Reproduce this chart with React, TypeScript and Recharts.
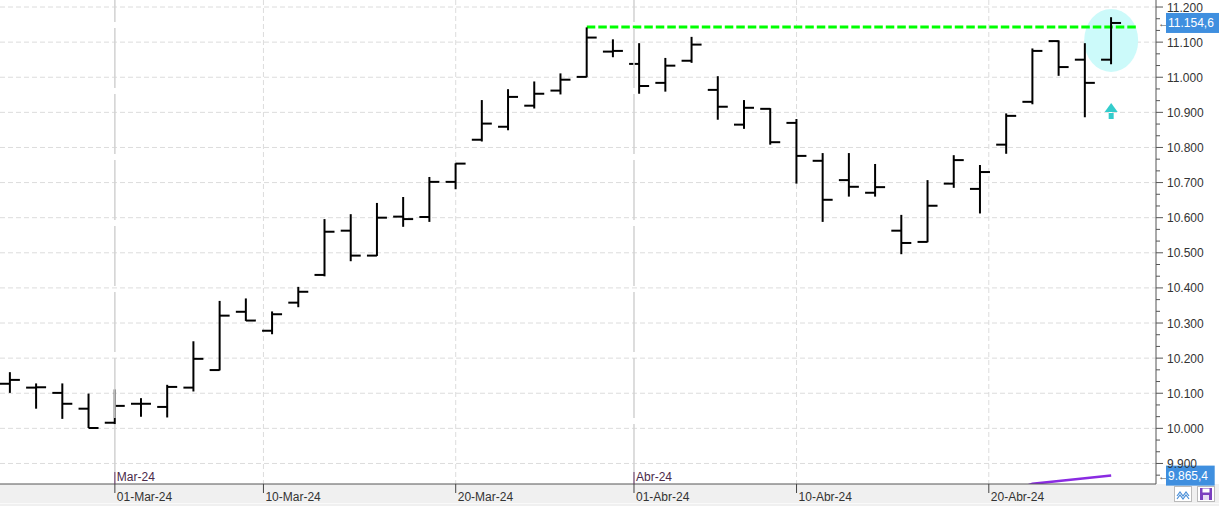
import React from 'react';
import { ComposedChart, Bar, Line, XAxis, YAxis, CartesianGrid, ReferenceLine, ReferenceDot } from 'recharts';

// IBEX 35 daily bars, 26-Feb-24 .. 26-Abr-24 (trading days only)
const opens = [10127, 10116, 10101, 10056, 10016, 10070, 10061, 10116, 10166, 10332, 10278, 10358, 10437, 10563, 10492, 10603, 10602, 10702, 10822, 10859, 10919, 10962, 11001, 11073, 11038, 10984, 11047, 10964, 10865, 10910, 10870, 10762, 10707, 10671, 10563, 10531, 10697, 10682, 10808, 10930, 11103, 11050, 11050];
const highs = [10160, 10128, 10128, 10099, 10111, 10086, 10124, 10248, 10363, 10370, 10333, 10403, 10596, 10610, 10642, 10659, 10716, 10755, 10935, 10966, 10988, 11011, 11142, 11108, 11097, 11055, 11115, 11003, 10935, 10912, 10881, 10784, 10784, 10753, 10608, 10707, 10778, 10750, 10897, 11082, 11105, 11097, 11171];
const lows = [10101, 10056, 10027, 10001, 10012, 10033, 10031, 10105, 10165, 10306, 10268, 10345, 10433, 10476, 10491, 10574, 10588, 10681, 10817, 10849, 10911, 10951, 11000, 11057, 10953, 10959, 11041, 10879, 10853, 10808, 10697, 10588, 10660, 10660, 10496, 10530, 10685, 10612, 10782, 10923, 11004, 10886, 11037];
const closes = [10138, 10117, 10070, 10001, 10064, 10070, 10118, 10198, 10321, 10307, 10325, 10389, 10560, 10492, 10600, 10596, 10702, 10754, 10868, 10944, 10953, 10993, 11113, 11075, 10975, 11033, 11093, 10916, 10913, 10815, 10776, 10651, 10688, 10687, 10528, 10634, 10764, 10730, 10890, 11075, 11029, 10984, 11154.6];

// long moving average, only its tail reaches the visible range
const maStart = 38;
const maValues = [9818, 9842, 9850, 9858, 9865.4];

const dateTicks = [4, 9.667, 17, 23.8, 30, 37.333];
const dateLabels = ['01-Mar-24', '10-Mar-24', '20-Mar-24', '01-Abr-24', '10-Abr-24', '20-Abr-24'];
const monthTicks = [4, 23.8];
const monthLabels = ['Mar-24', 'Abr-24'];
const priceTicks = [9900, 10000, 10100, 10200, 10300, 10400, 10500, 10600, 10700, 10800, 10900, 11000, 11100, 11200];

const resistance = 11143;
const resistanceFrom = 22;
const resistanceTo = 43;
const lastPrice = 11154.6;
const maLast = 9865.4;
const highlightIdx = 42;
const highlightPrice = 11105;
const arrowPrice = 10901;

const chartData = opens.map((o, i) => ({
  idx: i,
  open: o,
  high: highs[i],
  low: lows[i],
  close: closes[i],
  range: [lows[i], highs[i]],
  ma: i >= maStart ? maValues[i - maStart] : null,
}));

// minor ticks every third of 100 on the price scale
const yTicks: number[] = [];
for (let k = 0; k <= 40; k++) yTicks.push(Math.round((9866.667 + k * 33.3333) * 1000) / 1000);

const fmt = (v: number, dec = 0) => {
  const s = v.toFixed(dec);
  const [ip, dp] = s.split('.');
  const grouped = ip.replace(/\B(?=(\d{3})+(?!\d))/g, '.');
  return dp ? grouped + ',' + dp : grouped;
};

const FONT = '"Liberation Sans", Arial, sans-serif';

const OhlcShape = (props: any) => {
  const { x, y, width, height, payload } = props;
  const top = Math.min(y, y + height);
  const h = Math.abs(height);
  const cx = x + width / 2;
  const span = payload.high - payload.low || 1;
  const yOpen = top + ((payload.high - payload.open) / span) * h;
  const yClose = top + ((payload.high - payload.close) / span) * h;
  return (
    <g stroke="#000" strokeWidth={2}>
      <line x1={cx} y1={top} x2={cx} y2={top + h} />
      <line x1={cx - width / 2} y1={yOpen} x2={cx} y2={yOpen} />
      <line x1={cx} y1={yClose} x2={cx + width / 2} y2={yClose} />
    </g>
  );
};

const XTick = (props: any) => {
  const { x, y, payload } = props;
  const i = dateTicks.indexOf(payload.value);
  const m = monthTicks.indexOf(payload.value);
  return (
    <g>
      <line x1={x} y1={y} x2={x} y2={y + 9} stroke="#444" />
      <text x={x + 2} y={y + 17} fontSize={12} fill="#333" fontFamily={FONT}>{dateLabels[i]}</text>
      {m >= 0 && (
        <g>
          <line x1={x} y1={y - 12} x2={x} y2={y} stroke="#6a3a6a" />
          <text x={x + 2} y={y - 3} fontSize={12} fill="#4a2a4a" fontFamily={FONT}>{monthLabels[m]}</text>
        </g>
      )}
    </g>
  );
};

const YTick = (props: any) => {
  const { x, y, payload } = props;
  const v = payload.value;
  const major = Math.abs(v / 100 - Math.round(v / 100)) < 0.001;
  return (
    <g>
      <line x1={x} y1={y} x2={x + (major ? 7 : 4)} y2={y} stroke="#555" />
      {major && (
        <text x={x + 11} y={y + 4.5} fontSize={12} fill="#333" fontFamily={FONT}>{fmt(Math.round(v))}</text>
      )}
    </g>
  );
};

const priceTag = (text: string) => (props: any) => {
  const vb = props.viewBox || {};
  const x = vb.x + vb.width;
  const y = vb.y;
  const w = text.length * 6.1 + 6;
  return (
    <g>
      <text x={x + 2} y={y + 4} fontSize={11} fill="#555" fontFamily={FONT}>←</text>
      <rect x={x + 10} y={y - 10} width={w} height={20} fill="#3f8fdf" />
      <text x={x + 12} y={y + 4.5} fontSize={12} fill="#fff" fontFamily={FONT}>{text}</text>
    </g>
  );
};

const Highlight = (p: any) => <ellipse cx={p.cx} cy={p.cy} rx={27} ry={31.5} fill="#ccfafa" />;

const UpArrow = (p: any) => (
  <g fill="#33cccc">
    <path d={`M${p.cx} ${p.cy - 9} L${p.cx + 6.5} ${p.cy} L${p.cx - 6.5} ${p.cy} Z`} />
    <rect x={p.cx - 2.5} y={p.cy + 1} width={5} height={6} />
  </g>
);

export default function App() {
  return (
    <div style={{ position: 'relative', width: 1219, height: 506, background: '#fff', fontFamily: FONT }}>
      <style>{'body{margin:0}'}</style>
      <div style={{ position: 'absolute', left: 0, top: 484, width: 1219, height: 22, background: '#f0f0f0' }} />
      <div style={{ position: 'absolute', left: 0, top: 503, width: 1219, height: 1, background: '#fafafa' }} />
      <div style={{ position: 'absolute', left: 0, top: 0 }}>
        <ComposedChart width={1219} height={506} data={chartData} margin={{ top: 0, right: 0, bottom: 0, left: 0 }}>
          <CartesianGrid
            stroke="#dcdcdc"
            strokeDasharray="5 3"
            horizontalValues={priceTicks}
            verticalValues={dateTicks.filter((t) => monthTicks.indexOf(t) < 0)}
          />
          <XAxis
            dataKey="idx"
            type="number"
            domain={[-0.381, 43.71]}
            allowDataOverflow
            ticks={dateTicks}
            interval={0}
            tick={<XTick />}
            tickLine={false}
            tickSize={0}
            tickMargin={0}
            axisLine={{ stroke: '#555' }}
            height={22}
          />
          <YAxis
            orientation="right"
            type="number"
            domain={[9841.5, 11220]}
            allowDataOverflow
            ticks={yTicks}
            interval={0}
            tick={<YTick />}
            tickLine={false}
            tickSize={0}
            tickMargin={0}
            axisLine={{ stroke: '#555' }}
            width={63}
          />
          {monthTicks.map((t) => (
            <ReferenceLine key={t} x={t} stroke="#d2d2d2" strokeWidth={1.5} strokeDasharray="60 6" />
          ))}
          <ReferenceDot x={highlightIdx} y={highlightPrice} shape={Highlight} zIndex={-50} />
          <ReferenceLine
            segment={[{ x: resistanceFrom, y: resistance }, { x: resistanceTo, y: resistance }]}
            stroke="#00ff00"
            strokeWidth={3}
            strokeDasharray="8.5 3"
            zIndex={-40}
          />
          <Line
            dataKey="ma"
            stroke="#8a2be2"
            strokeWidth={2.5}
            dot={false}
            activeDot={false}
            isAnimationActive={false}
            zIndex={-30}
          />
          <Bar dataKey="range" barSize={20} shape={OhlcShape} isAnimationActive={false} zIndex={0} />
          <ReferenceDot x={highlightIdx} y={arrowPrice} shape={UpArrow} />
          <ReferenceLine y={lastPrice} stroke="none" label={priceTag(fmt(lastPrice, 1))} />
          <ReferenceLine y={maLast} stroke="none" label={priceTag(fmt(maLast, 1))} />
        </ComposedChart>
      </div>
      <div style={{ position: 'absolute', left: 1174, top: 486, width: 18, height: 16, background: '#fff', border: '1px solid #bbb', boxSizing: 'border-box' }}>
        <svg width={16} height={14}>
          <polyline points="2,9 5,5 8,9 11,5 14,9" fill="none" stroke="#4a8fd8" strokeWidth={1.2} />
          <polyline points="2,12 5,8 8,12 11,8 14,12" fill="none" stroke="#4a8fd8" strokeWidth={1.2} />
        </svg>
      </div>
      <div style={{ position: 'absolute', left: 1197, top: 486, width: 18, height: 16, background: '#fff', border: '1px solid #bbb', boxSizing: 'border-box' }}>
        <svg width={16} height={14}>
          <rect x={2} y={1} width={12} height={12} fill="#7b3fbf" />
          <rect x={4.5} y={1.5} width={7} height={4} fill="#fff" />
          <rect x={5} y={8} width={6} height={5} fill="#e8dcf5" />
        </svg>
      </div>
    </div>
  );
}
